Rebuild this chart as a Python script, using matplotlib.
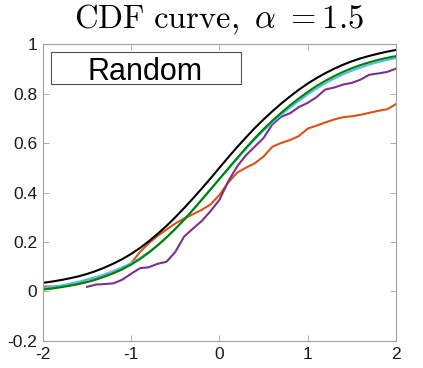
import numpy as np
import matplotlib
matplotlib.use('Agg')
import matplotlib.pyplot as plt
from matplotlib.patches import Rectangle

plt.rcParams['font.family'] = ['Liberation Sans', 'DejaVu Sans']
plt.rcParams['mathtext.fontset'] = 'cm'
plt.rcParams['axes.unicode_minus'] = False

# all curves read on a 0.1 grid
x_all = np.round(np.arange(-2, 2.01, 0.1), 2)
black = [0.035, 0.040, 0.046, 0.053, 0.061, 0.071, 0.083, 0.097, 0.113, 0.131,
         0.152, 0.176, 0.203, 0.233, 0.265, 0.300, 0.337, 0.376, 0.416, 0.457,
         0.500, 0.542, 0.583, 0.622, 0.660, 0.695, 0.728, 0.759, 0.788, 0.815,
         0.840, 0.862, 0.882, 0.900, 0.916, 0.930, 0.942, 0.952, 0.961, 0.969, 0.976]
green = [0.008, 0.012, 0.017, 0.023, 0.030, 0.038, 0.048, 0.060, 0.074, 0.090,
         0.109, 0.131, 0.157, 0.186, 0.218, 0.253, 0.290, 0.330, 0.371, 0.413,
         0.455, 0.497, 0.539, 0.580, 0.619, 0.656, 0.690, 0.722, 0.752, 0.780,
         0.806, 0.830, 0.851, 0.870, 0.887, 0.902, 0.915, 0.926, 0.936, 0.944, 0.951]
cyan = [0.014, 0.018, 0.024, 0.031, 0.039, 0.048, 0.058, 0.070, 0.083, 0.098,
        0.115, 0.135, 0.160, 0.188, 0.219, 0.253, 0.290, 0.330, 0.371, 0.412,
        0.454, 0.495, 0.536, 0.576, 0.614, 0.650, 0.683, 0.714, 0.743, 0.770,
        0.796, 0.820, 0.841, 0.860, 0.877, 0.892, 0.905, 0.917, 0.927, 0.936, 0.943]
orange = [0.02, 0.02, 0.022, 0.026, 0.03, 0.048, 0.056, 0.065, 0.076, 0.09,
          0.115, 0.16, 0.195, 0.225, 0.25, 0.275, 0.295, 0.312, 0.33, 0.352,
          0.39, 0.44, 0.48, 0.50, 0.518, 0.545, 0.585, 0.60, 0.612, 0.628,
          0.658, 0.67, 0.683, 0.695, 0.704, 0.708, 0.714, 0.722, 0.73, 0.736, 0.757]
x_p = np.round(np.arange(-1.5, 2.01, 0.1), 2)
purple = [0.019, 0.028, 0.03, 0.033, 0.048, 0.072, 0.094, 0.098, 0.112, 0.12,
          0.16, 0.222, 0.254, 0.285, 0.325, 0.37, 0.445, 0.505, 0.55, 0.585,
          0.62, 0.675, 0.706, 0.72, 0.745, 0.762, 0.785, 0.816, 0.824, 0.836,
          0.843, 0.856, 0.876, 0.881, 0.887, 0.90]

fig = plt.figure(figsize=(4.23, 3.68), dpi=100)
ax = fig.add_axes([0.1017, 0.0734, 0.834, 0.807])

lw = 1.5
ax.plot(x_all, orange, color='#D95319', lw=lw)
ax.plot(x_p, purple, color='#7E2F8E', lw=lw)
ax.plot(x_all, cyan, color='#4DBEEE', lw=lw)
ax.plot(x_all, green, color='#008000', lw=lw)
ax.plot(x_all, black, color='black', lw=lw)

ax.set_xlim(-2, 2)
ax.set_ylim(-0.2, 1)
ax.set_xticks([-2, -1, 0, 1, 2])
ax.set_xticklabels(['-2', '-1', '0', '1', '2'])
ax.set_yticks([-0.2, 0, 0.2, 0.4, 0.6, 0.8, 1])
ax.set_yticklabels(['-0.2', '0', '0.2', '0.4', '0.6', '0.8', '1'])
ax.tick_params(direction='in', top=True, right=True, length=4, width=0.6,
               color='#A0A0A0', labelsize=12.5, labelcolor='#1a1a1a', pad=4)
for s in ax.spines.values():
    s.set_color('#A0A0A0')
    s.set_linewidth(0.8)

# legend-like box
ax.add_patch(Rectangle((0.022, 0.865), 0.538, 0.109, transform=ax.transAxes,
                       fill=False, ec='#505050', lw=0.8))
ax.text(0.29, 0.879, 'Random', transform=ax.transAxes, ha='center', va='baseline',
        fontsize=22, color='black')

ax.set_title(r'$\mathrm{CDF\ curve,}\ \alpha\ \mathrm{=1.5}$', fontsize=23.5, pad=11)

fig.savefig('out.png', dpi=100)
